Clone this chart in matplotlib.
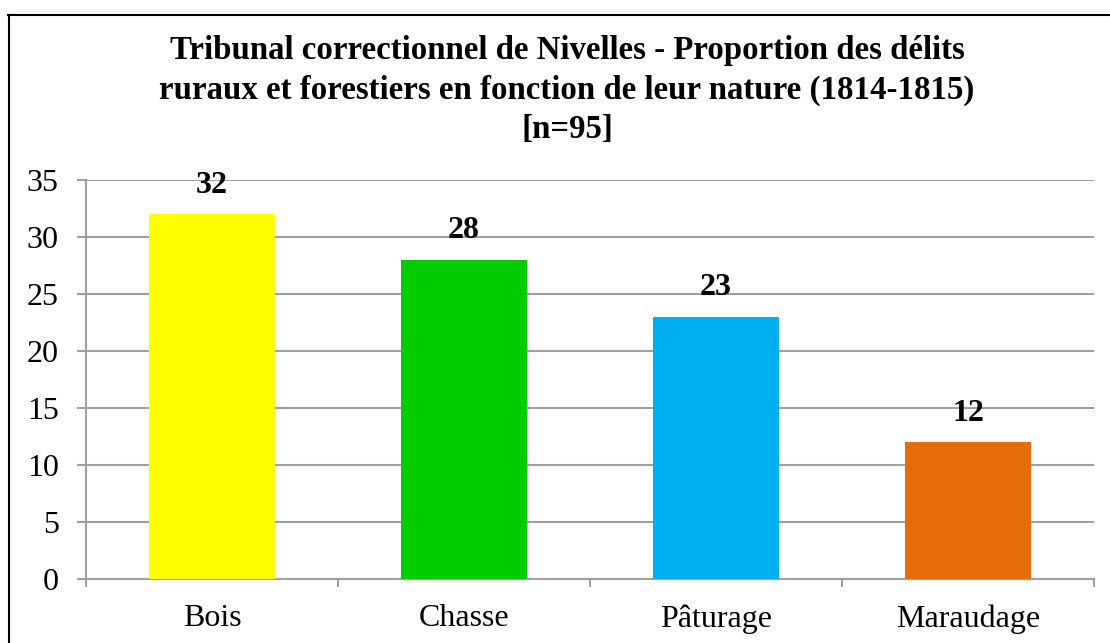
import matplotlib
matplotlib.use("Agg")
import matplotlib.pyplot as plt
from matplotlib.lines import Line2D

categories = ["Bois", "Chasse", "Pâturage", "Maraudage"]
values = [32, 28, 23, 12]
colors = ["#FFFF00", "#00CC00", "#00B0F0", "#E46C0A"]
yticks = [0, 5, 10, 15, 20, 25, 30, 35]
title = ("Tribunal correctionnel de Nivelles - Proportion des délits\n"
         "ruraux et forestiers en fonction de leur nature (1814-1815)\n"
         "[n=95]")

plt.rcParams['font.family'] = ['Liberation Serif', 'DejaVu Serif']

W, H = 1110, 643
fig = plt.figure(figsize=(W / 100, H / 100), dpi=100)
ax = fig.add_axes([86 / W, (H - 579) / H, 1008 / W, 399 / H])

FS = 23
x = list(range(len(categories)))
bars = ax.bar(x, values, width=0.5, color=colors, zorder=3)
for xi, v in zip(x, values):
    ax.annotate(str(v), (xi, v), xytext=(0, 21), textcoords="offset points",
                ha="center", va="center", fontsize=FS, fontweight="bold", zorder=4)

ax.set_xlim(-0.5, len(categories) - 0.5)
ax.set_ylim(0, 35)
ax.set_yticks(yticks)
ax.set_yticklabels([str(t) for t in yticks], fontsize=FS)
ax.set_xticks(x)
ax.set_xticklabels(categories, fontsize=FS)
ax.set_xticks([i - 0.5 for i in range(len(categories) + 1)], minor=True)

gc = "#A0A0A0"
ax.grid(axis="y", color=gc, linewidth=1.5, zorder=0)
for s in ["top", "right"]:
    ax.spines[s].set_visible(False)
for s in ["left", "bottom"]:
    ax.spines[s].set_color(gc)
    ax.spines[s].set_linewidth(1.5)
ax.tick_params(axis="y", length=6.5, width=1.5, color=gc, pad=13, labelcolor="black")
ax.tick_params(axis="x", which="major", length=0, pad=18)
ax.tick_params(axis="x", which="minor", length=6, width=1.5, color=gc)

fig.text(567 / W, 1 - 90 / H, title, ha="center", va="center",
         fontsize=23.7, fontweight="bold", linespacing=1.34)

# outer border (top and left visible)
fig.add_artist(Line2D([8 / W, 1.0], [1 - 14.5 / H, 1 - 14.5 / H], color="black", linewidth=1.5,
                      transform=fig.transFigure))
fig.add_artist(Line2D([8.5 / W, 8.5 / W], [0, 1 - 14.5 / H], color="black", linewidth=1.5,
                      transform=fig.transFigure))

fig.savefig("out.png", dpi=100)
